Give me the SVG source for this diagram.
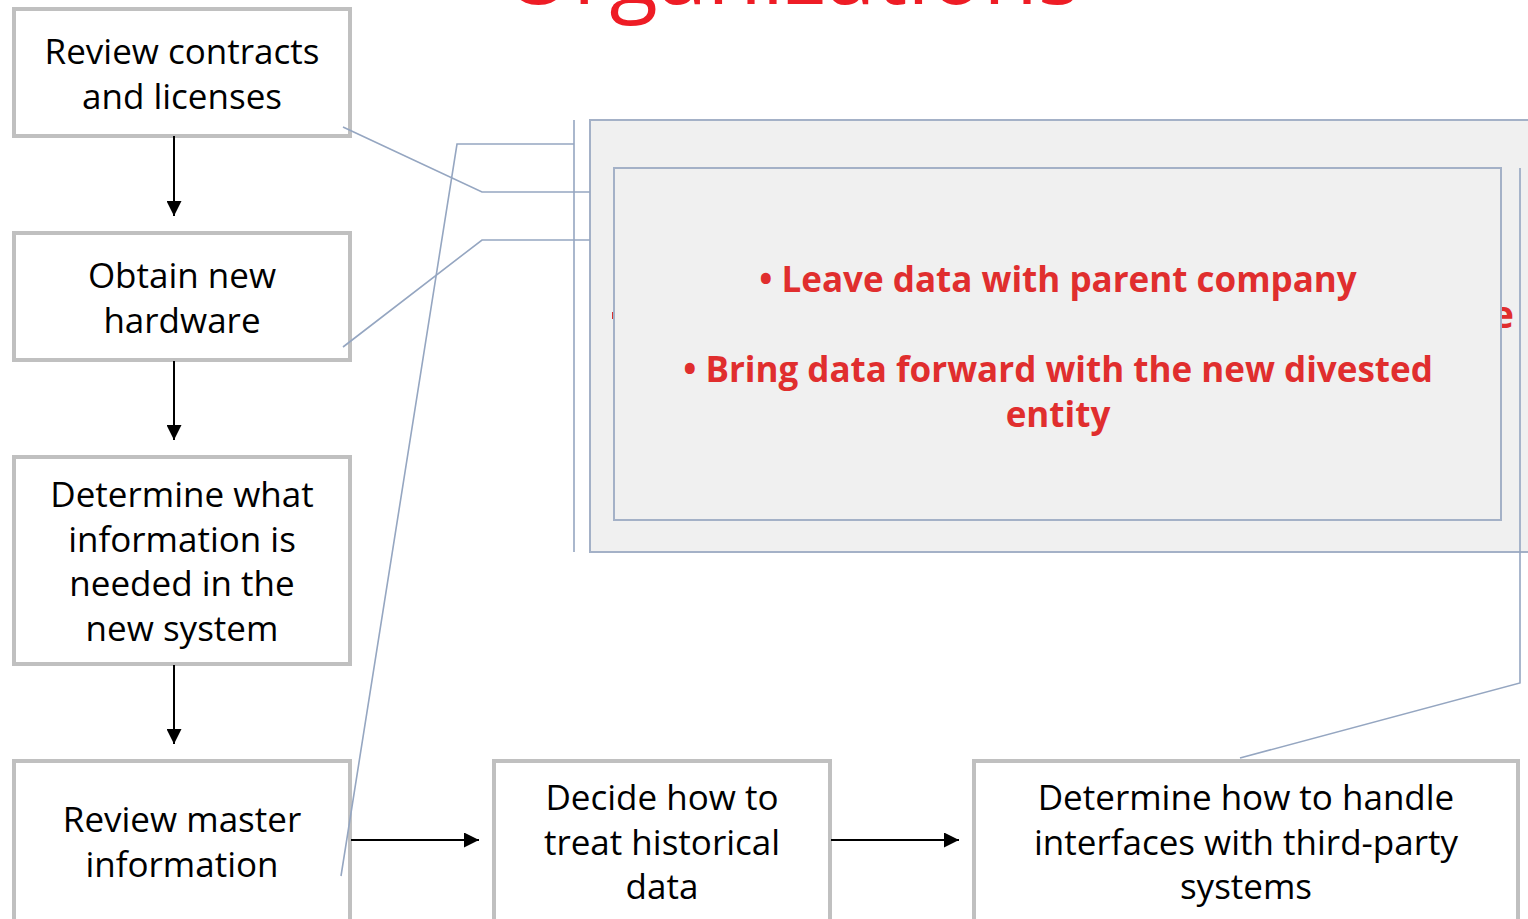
<svg xmlns="http://www.w3.org/2000/svg" width="1528" height="919" viewBox="0 0 1528 919">
  <defs>
    <marker id="arrow" viewBox="0 0 10 10" refX="10" refY="5" markerWidth="16" markerHeight="15" orient="auto" markerUnits="userSpaceOnUse">
      <path d="M0,0 L10,5 L0,10 z" fill="#000"/>
    </marker>
    <style>
      .box { fill: #ffffff; stroke: #c0c0c0; stroke-width: 4; }
      .lbl { font-family: "Open Sans", "Noto Sans", sans-serif; font-size: 35px; fill: #000; text-anchor: middle; }
      .flow { stroke: #000; stroke-width: 2; fill: none; }
      .link { stroke: #95a6c1; stroke-width: 1.6; fill: none; }
      .panel { fill: #f0f0f0; stroke: #a4b1c7; stroke-width: 2; }
      .red { font-family: "Open Sans", "Noto Sans", sans-serif; font-weight: 700; font-size: 35px; fill: #e02e2e; text-anchor: middle; }
    </style>
  </defs>
  <rect width="1528" height="919" fill="#ffffff"/>

  <!-- heading, cut by the top edge -->
  <text x="792" y="4" font-family="'Open Sans', 'Noto Sans', sans-serif" font-size="89" fill="#ee1c25" text-anchor="middle">Organizations</text>

  <!-- callout panel -->
  <g id="callout">
    <rect class="panel" x="590" y="120" width="960" height="432"/>
    <rect x="612" y="312" width="2.5" height="7" fill="#d83030"/>
    <text x="1514" y="328" font-family="'Open Sans', 'Noto Sans', sans-serif" font-weight="700" font-size="38" fill="#e02e2e" text-anchor="end">e</text>
    <rect class="panel" x="614" y="168" width="887" height="352"/>
    <text class="red" x="1058" y="292">• Leave data with parent company</text>
    <text class="red" x="1058" y="382">• Bring data forward with the new divested</text>
    <text class="red" x="1058" y="427">entity</text>
  </g>

  <g id="review-contracts">
    <rect class="box" x="14" y="9" width="336" height="127"/>
    <text class="lbl" x="182" y="64">Review contracts</text>
    <text class="lbl" x="182" y="109">and licenses</text>
  </g>
  <g id="obtain-hardware">
    <rect class="box" x="14" y="233" width="336" height="127"/>
    <text class="lbl" x="182" y="288">Obtain new</text>
    <text class="lbl" x="182" y="333">hardware</text>
  </g>
  <g id="determine-information">
    <rect class="box" x="14" y="457" width="336" height="207"/>
    <text class="lbl" x="182" y="507">Determine what</text>
    <text class="lbl" x="182" y="552">information is</text>
    <text class="lbl" x="182" y="596">needed in the</text>
    <text class="lbl" x="182" y="641">new system</text>
  </g>
  <g id="review-master">
    <rect class="box" x="14" y="761" width="336" height="180"/>
    <text class="lbl" x="182" y="832">Review master</text>
    <text class="lbl" x="182" y="877">information</text>
  </g>
  <g id="historical-data">
    <rect class="box" x="494" y="761" width="336" height="180"/>
    <text class="lbl" x="662" y="810">Decide how to</text>
    <text class="lbl" x="662" y="855">treat historical</text>
    <text class="lbl" x="662" y="899">data</text>
  </g>
  <g id="third-party">
    <rect class="box" x="974" y="761" width="544" height="180"/>
    <text class="lbl" x="1246" y="810">Determine how to handle</text>
    <text class="lbl" x="1246" y="855">interfaces with third-party</text>
    <text class="lbl" x="1246" y="899">systems</text>
  </g>

  <!-- connectors, drawn over the box borders -->
  <g id="connectors">
    <polyline class="link" points="343,127 482,192 590,192"/>
    <polyline class="link" points="343,347 482,240 590,240"/>
    <polyline class="link" points="341,876 457,144 574,144"/>
    <line class="link" x1="574" y1="120" x2="574" y2="552"/>
    <polyline class="link" points="1240,758 1520,683 1520,168"/>
    <line class="flow" x1="174" y1="136" x2="174" y2="216" marker-end="url(#arrow)"/>
    <line class="flow" x1="174" y1="361" x2="174" y2="440" marker-end="url(#arrow)"/>
    <line class="flow" x1="174" y1="665" x2="174" y2="744" marker-end="url(#arrow)"/>
    <line class="flow" x1="351" y1="840" x2="479" y2="840" marker-end="url(#arrow)"/>
    <line class="flow" x1="831" y1="840" x2="959" y2="840" marker-end="url(#arrow)"/>
  </g>
</svg>
